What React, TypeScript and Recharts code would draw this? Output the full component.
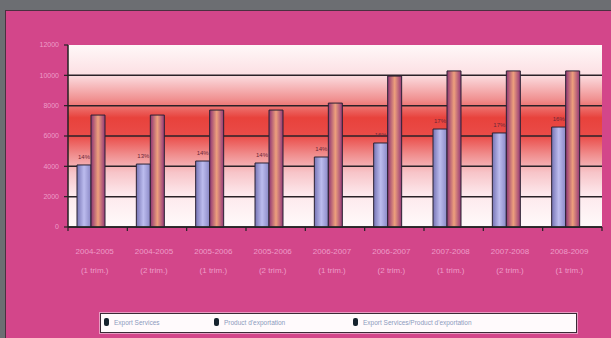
import React from 'react';
import { BarChart, Bar, XAxis, YAxis, CartesianGrid, LabelList } from 'recharts';

const categoryYears = ['2004-2005', '2004-2005', '2005-2006', '2005-2006', '2006-2007', '2006-2007', '2007-2008', '2007-2008', '2008-2009'];
const categoryPeriods = ['(1 trim.)', '(2 trim.)', '(1 trim.)', '(2 trim.)', '(1 trim.)', '(2 trim.)', '(1 trim.)', '(2 trim.)', '(1 trim.)'];
const servicesValues = [4090, 4150, 4350, 4220, 4615, 5540, 6460, 6200, 6590];
const productValues = [7380, 7380, 7710, 7710, 8170, 9950, 10290, 10290, 10290];
const ratioValues = [0.14, 0.13, 0.14, 0.14, 0.14, 0.16, 0.17, 0.17, 0.16];
const yTicks = [0, 2000, 4000, 6000, 8000, 10000, 12000];
const seriesNames = ['Export Services', 'Product d\'exportation', 'Export Services/Product d\'exportation'];

const data = categoryYears.map((y, i) => ({
  year: y,
  period: categoryPeriods[i],
  services: servicesValues[i],
  product: productValues[i],
  ratio: ratioValues[i],
}));

const PLOT_TOP = 45;
const PLOT_H = 182;
const PLOT_W = 534;
const BAND = PLOT_W / categoryYears.length;
const LABEL_COLOR = '#ee9cc8';
const Y_MAX = yTicks[yTicks.length - 1];
const gridPoints = yTicks.filter((t) => t < Y_MAX).map((t) => PLOT_TOP + PLOT_H * (1 - t / Y_MAX));

const XTick = (props: any) => {
  const { x, payload, index } = props;
  const d = data[index] || { year: payload.value, period: '' };
  return (
    <g>
      <line x1={x - BAND / 2} x2={x - BAND / 2} y1={227} y2={231} stroke="#222" strokeWidth={1.2} />
      {index === categoryYears.length - 1 && (
        <line x1={x + BAND / 2} x2={x + BAND / 2} y1={227} y2={231} stroke="#222" strokeWidth={1.2} />
      )}
      <text x={x - 3} y={254} textAnchor="middle" fontSize={8} fill={LABEL_COLOR} fontFamily="Liberation Sans, Arial, sans-serif">{d.year}</text>
      <text x={x - 3} y={273} textAnchor="middle" fontSize={8} fill={LABEL_COLOR} fontFamily="Liberation Sans, Arial, sans-serif">{d.period}</text>
    </g>
  );
};

const markerColor = '#16232e';

export default function App() {
  return (
    <div style={{ position: 'fixed', left: 0, top: 0, width: 611, height: 338, background: '#6c6e72', overflow: 'hidden' }}>
      <div style={{ position: 'absolute', left: 5, top: 10, width: 606, height: 328, background: '#d3468a', borderTop: '1.5px solid #4a3040', borderLeft: '1.5px solid #4a3040', boxSizing: 'border-box' }} />
      <div style={{ position: 'absolute', left: 0, top: 0 }}>
        <BarChart
          width={611}
          height={338}
          data={data}
          margin={{ top: PLOT_TOP, right: 9, bottom: 61, left: 0 }}
          barGap={0}
          barCategoryGap={0}
        >
          <defs>
            <linearGradient id="bgGrad" x1="0" y1="0" x2="0" y2="1">
              <stop offset="0" stopColor="#fff8f8" />
              <stop offset="0.16" stopColor="#fce0e4" />
              <stop offset="0.3" stopColor="#f09090" />
              <stop offset="0.4" stopColor="#e8423c" />
              <stop offset="0.5" stopColor="#ea4c48" />
              <stop offset="0.6" stopColor="#f08c8c" />
              <stop offset="0.7" stopColor="#f7c4c8" />
              <stop offset="0.82" stopColor="#fde8ec" />
              <stop offset="1" stopColor="#fffafa" />
            </linearGradient>
            <linearGradient id="blueGrad" x1="0" y1="0" x2="1" y2="0">
              <stop offset="0" stopColor="#7674b4" />
              <stop offset="0.5" stopColor="#bcbcee" />
              <stop offset="1" stopColor="#8a88c6" />
            </linearGradient>
            <linearGradient id="orangeGrad" x1="0" y1="0" x2="1" y2="0">
              <stop offset="0" stopColor="#8e3474" />
              <stop offset="0.5" stopColor="#eea07c" />
              <stop offset="1" stopColor="#943878" />
            </linearGradient>
          </defs>
          <CartesianGrid
            vertical={false}
            stroke="#2a2228"
            strokeWidth={1.5}
            fill="url(#bgGrad)"
            fillOpacity={1}
            horizontalPoints={gridPoints}
          />
          <XAxis
            dataKey="year"
            height={50}
            interval={0}
            tickLine={false}
            tickSize={0}
            axisLine={{ stroke: '#222', strokeWidth: 1.5 }}
            tick={<XTick />}
          />
          <YAxis
            width={68}
            domain={[0, Y_MAX]}
            ticks={yTicks}
            interval={0}
            tickSize={4}
            tickMargin={5}
            axisLine={{ stroke: '#222', strokeWidth: 1.5 }}
            tickLine={{ stroke: '#222', strokeWidth: 1.2 }}
            tick={{ fontSize: 7, fill: LABEL_COLOR, fontFamily: 'Liberation Sans, Arial, sans-serif' }}
          />
          <Bar dataKey="services" name={seriesNames[0]} barSize={14} fill="url(#blueGrad)" stroke="#2b2233" strokeWidth={1} isAnimationActive={false}>
            <LabelList dataKey="ratio" position="top" offset={6} formatter={(v: any) => `${Math.round(Number(v) * 100)}%`} style={{ fontSize: 6, fill: '#6a2838', fontFamily: 'Liberation Sans, Arial, sans-serif' }} />
          </Bar>
          <Bar dataKey="product" name={seriesNames[1]} barSize={14} fill="url(#orangeGrad)" stroke="#2b2233" strokeWidth={1} isAnimationActive={false} />
          <Bar dataKey="ratio" name={seriesNames[2]} barSize={14} fill={markerColor} isAnimationActive={false} />
        </BarChart>
      </div>
      <div style={{ position: 'absolute', left: 100, top: 313, width: 477, height: 20, background: '#fffafc', border: '1.5px solid #3a2a36', boxSizing: 'border-box', boxShadow: '0 0 0 1px #e79bc2', fontFamily: 'Liberation Sans, Arial, sans-serif', fontSize: 6.5, color: '#8c9abc' }}>
        {seriesNames.map((n, i) => (
          <div key={n} style={{ position: 'absolute', left: [3, 113, 252][i], top: 4, display: 'flex', alignItems: 'center', whiteSpace: 'nowrap' }}>
            <span style={{ display: 'inline-block', width: 5, height: 8, background: markerColor, borderRadius: 2, marginRight: 5 }} />
            <span>{n}</span>
          </div>
        ))}
      </div>
    </div>
  );
}
